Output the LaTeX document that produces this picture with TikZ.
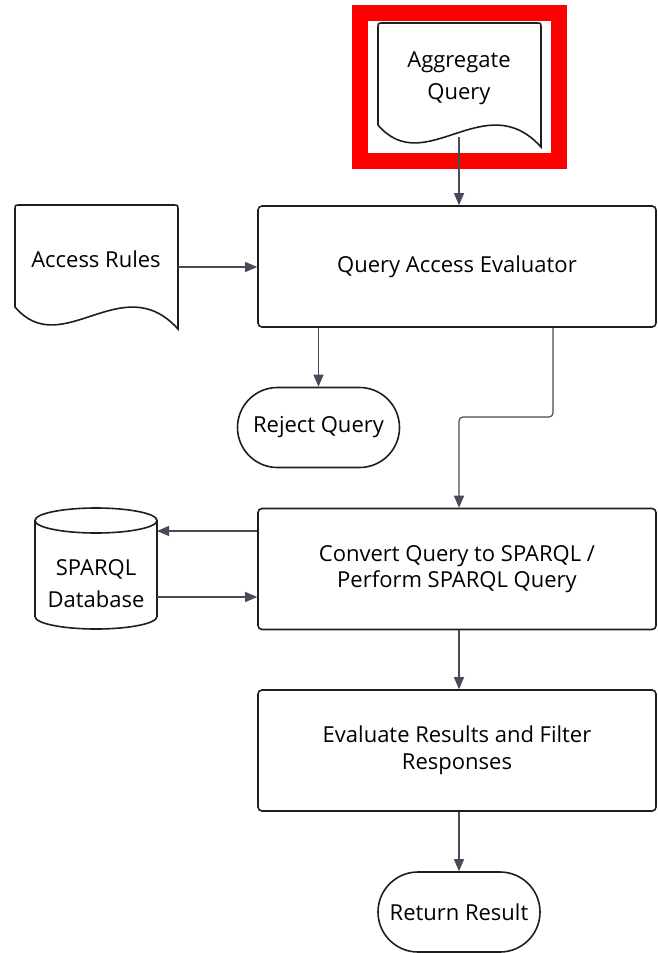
\documentclass[tikz,border=0pt]{standalone}
\usepackage{fontspec}
\setmainfont{Open Sans}
\usetikzlibrary{arrows.meta}
\definecolor{boxc}{HTML}{1E1E1E}
\definecolor{arrc}{HTML}{454B57}
\definecolor{redc}{HTML}{FF0000}
\begin{document}
\begin{tikzpicture}[x=1pt,y=-1pt,
  shp/.style={draw=boxc, line width=1.6pt, fill=white},
  proc/.style={draw=boxc, line width=1.6pt, rounded corners=4pt, minimum width=398pt, minimum height=121pt, inner sep=0pt, align=center, font=\fontsize{22}{26.5}\selectfont},
  term/.style={draw=boxc, line width=1.6pt, rounded corners=40pt, minimum width=162pt, minimum height=80pt, inner sep=0pt, align=center, font=\fontsize{22}{26.5}\selectfont},
  txt/.style={inner sep=0pt, align=center, font=\fontsize{22}{32}\selectfont},
  arr/.style={draw=arrc, line width=1.2pt, -{Triangle[length=12pt,width=10pt]}}]
\useasboundingbox (0,0) rectangle (657,953);
% highlight frame
\draw[redc, line width=16pt] (360,13) rectangle (559,161);
% document: Aggregate Query
\begin{scope}[shift={(378,23)}]
\draw[shp] (0,102) -- (0,5) .. controls (0,0) .. (5,0) -- (158,0) .. controls (163,0) .. (163,5) -- (163,124) .. controls (107,62) and (47,157) .. (0,102) -- cycle;
\end{scope}
\node[txt] (agg) at (459,78) {Aggregate\\Query};
% document: Access Rules
\begin{scope}[shift={(15,205)}]
\draw[shp] (0,102) -- (0,5) .. controls (0,0) .. (5,0) -- (158,0) .. controls (163,0) .. (163,5) -- (163,124) .. controls (107,62) and (47,157) .. (0,102) -- cycle;
\end{scope}
\node[txt] (rules) at (96,259) {Access Rules};
% database
\draw[shp] (35,520.5) -- (35,616.5) arc[start angle=180,end angle=360,x radius=61pt,y radius=12.5pt] -- (157,520.5) arc[start angle=0,end angle=180,x radius=61pt,y radius=12.5pt] -- cycle;
\draw[shp] (35,520.5) arc[start angle=180,end angle=360,x radius=61pt,y radius=12.5pt];
\node[txt] (db) at (96,584) {SPARQL\\Database};
% process boxes
\node[proc] (qae) at (457,266.5) {Query Access Evaluator};
\node[proc] (conv) at (457,569) {Convert Query to SPARQL /\\Perform SPARQL Query};
\node[proc] (eval) at (457,750.5) {Evaluate Results and Filter\\Responses};
% terminals
\node[term] (reject) at (318.5,427.5) {Reject Query};
\node[term] (ret) at (459,912) {Return Result};
% connectors
\coordinate (aggout) at (459,137);
\coordinate (rulesout) at (178,267);
\coordinate (dbr) at (157,0);
\coordinate (bend) at (553,417);
\draw[arr] (aggout) -- (qae.north -| aggout);
\draw[arr] (rulesout) -- (qae.west |- rulesout);
\draw[arr] (qae.south -| reject.north) -- (reject.north);
\draw[arr, rounded corners=4pt] (qae.south -| bend) -- (bend) -| (conv.north -| aggout);
\draw[arr] (conv.west |- 0,531) -- (dbr |- 0,531);
\draw[arr] (dbr |- 0,597) -- (conv.west |- 0,597);
\draw[arr] (conv.south -| aggout) -- (eval.north -| aggout);
\draw[arr] (eval.south -| ret.north) -- (ret.north);
\end{tikzpicture}
\end{document}
